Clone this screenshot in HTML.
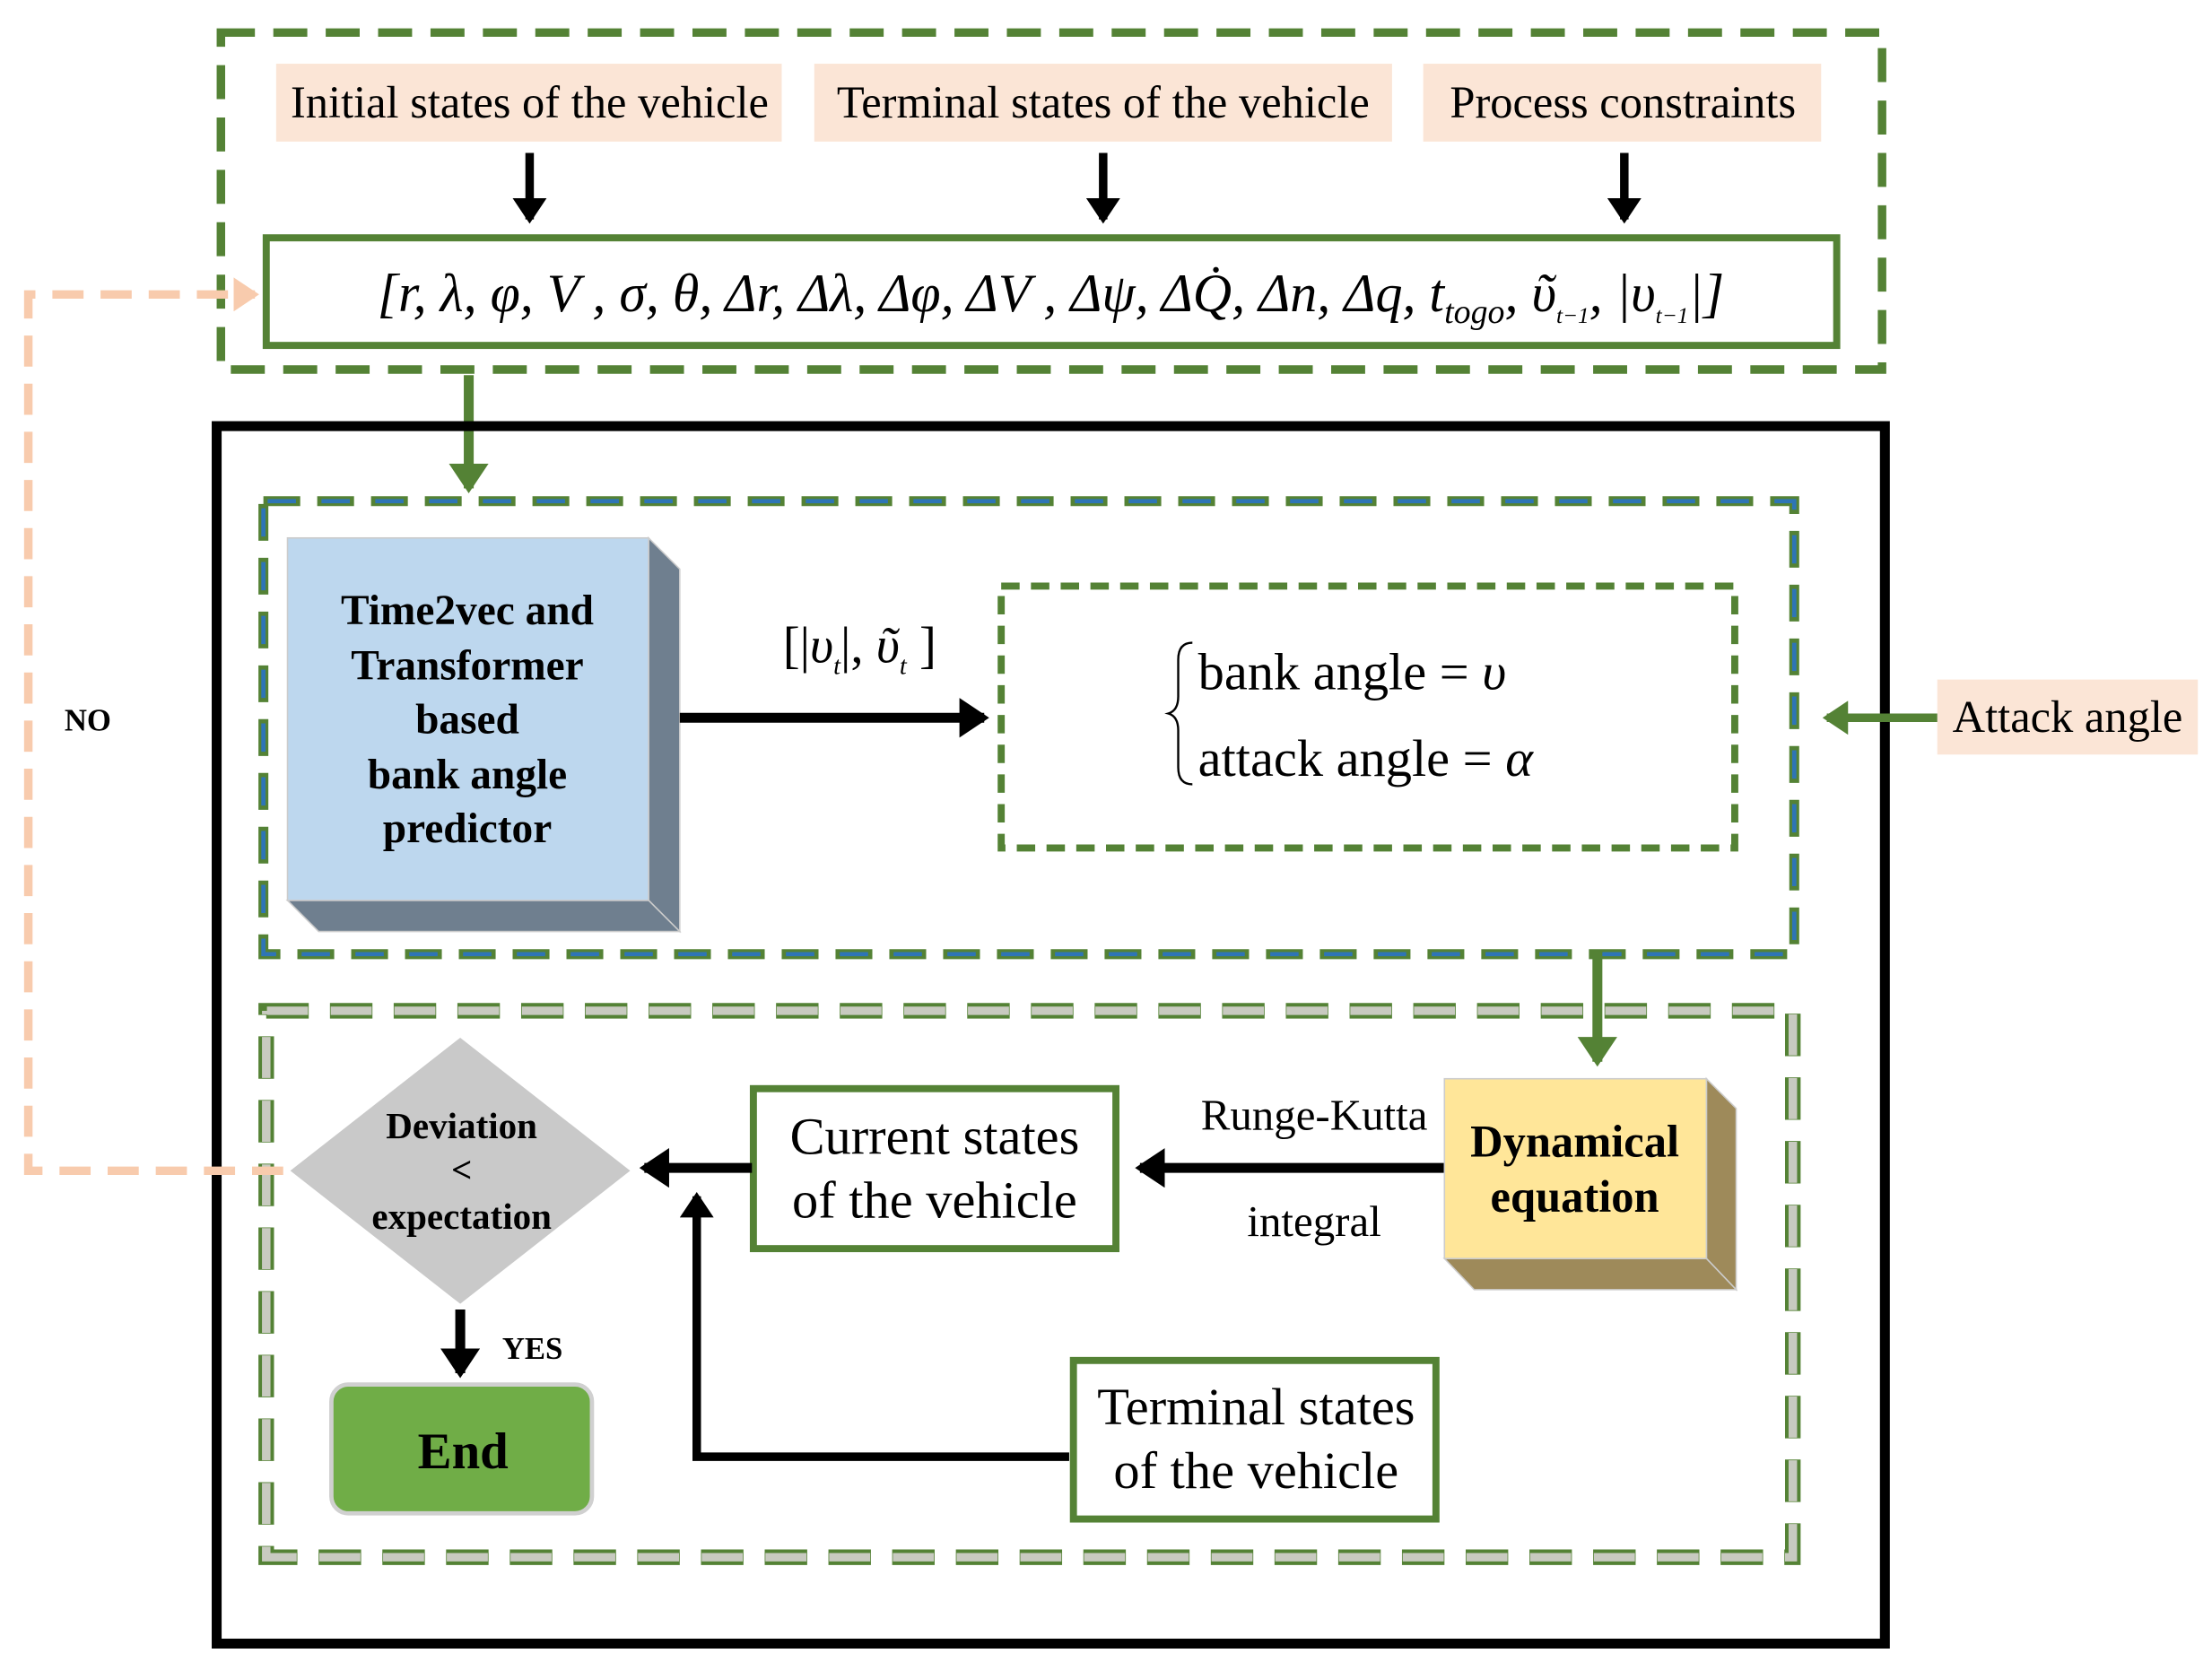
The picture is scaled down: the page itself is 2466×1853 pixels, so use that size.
<!DOCTYPE html>
<html><head><meta charset="utf-8"><style>html,body{margin:0;padding:0;background:#fff}svg{display:block}</style></head>
<body>
<svg width="2466" height="1853" viewBox="0 0 1562 1174" preserveAspectRatio="none" xmlns="http://www.w3.org/2000/svg" font-family="Liberation Serif, serif">
<defs>
<marker id="ab" markerWidth="4" markerHeight="4" refX="2.5" refY="2" orient="auto" markerUnits="strokeWidth"><path d="M0,0 L3,2 L0,4 z" fill="#000"/></marker>
<marker id="ag" markerWidth="4" markerHeight="4" refX="2.5" refY="2" orient="auto" markerUnits="strokeWidth"><path d="M0,0 L3,2 L0,4 z" fill="#548235"/></marker>
<marker id="ap" markerWidth="4" markerHeight="4" refX="2.5" refY="2" orient="auto" markerUnits="strokeWidth"><path d="M0,0 L3,2 L0,4 z" fill="#f8cbad"/></marker>
</defs>
<rect x="156" y="23" width="1173" height="238" fill="none" stroke="#548235" stroke-width="6" stroke-dasharray="24,13"/>
<rect x="195" y="45" width="357" height="55" fill="#fbe5d6"/>
<text x="374" y="83" font-size="32" text-anchor="middle">Initial states of the vehicle</text>
<rect x="575" y="45" width="408" height="55" fill="#fbe5d6"/>
<text x="779" y="83" font-size="32" text-anchor="middle">Terminal states of the vehicle</text>
<rect x="1005" y="45" width="281" height="55" fill="#fbe5d6"/>
<text x="1146" y="83" font-size="32" text-anchor="middle">Process constraints</text>
<g stroke="#000" stroke-width="6" marker-end="url(#ab)">
<line x1="374" y1="108" x2="374" y2="155"/><line x1="779" y1="108" x2="779" y2="155"/><line x1="1147" y1="108" x2="1147" y2="155"/></g>
<rect x="188" y="168" width="1109" height="76" fill="#fff" stroke="#548235" stroke-width="5"/>
<text x="742" y="220" font-size="38" text-anchor="middle" font-style="italic">[r, λ, φ, V , σ, θ, Δr, Δλ, Δφ, ΔV , Δψ, ΔQ̇, Δn, Δq, t<tspan font-size="24" dy="8">togo</tspan><tspan dy="-8">, ῦ</tspan><tspan font-size="16" dy="8">t−1</tspan><tspan dy="-8">, |υ</tspan><tspan font-size="16" dy="8">t−1</tspan><tspan dy="-8">|]</tspan></text>
<line x1="331" y1="265" x2="331" y2="345" stroke="#548235" stroke-width="7" marker-end="url(#ag)"/>
<rect x="153" y="301" width="1178" height="860" fill="none" stroke="#000" stroke-width="7"/>
<rect x="186" y="354" width="1081" height="320" fill="none" stroke="#548235" stroke-width="7" stroke-dasharray="26,12"/>
<rect x="186" y="354" width="1081" height="320" fill="none" stroke="#2e75b6" stroke-width="3" stroke-dasharray="20,18" stroke-dashoffset="-3"/>
<polygon points="458,380 480,402 480,658 458,636" fill="#6f7f8f" stroke="#ccc"/>
<polygon points="203,636 458,636 480,658 225,658" fill="#6f7f8f" stroke="#ccc"/>
<rect x="203" y="380" width="255" height="256" fill="#bdd7ee" stroke="#ccc"/>
<g font-size="30" font-weight="bold" text-anchor="middle">
<text x="330" y="441">Time2vec and</text><text x="330" y="480">Transformer</text><text x="330" y="518">based</text><text x="330" y="557">bank angle</text><text x="330" y="595">predictor</text></g>
<line x1="480" y1="507" x2="695" y2="507" stroke="#000" stroke-width="7" marker-end="url(#ab)"/>
<text x="607" y="468" font-size="36" text-anchor="middle">[|<tspan font-style="italic">υ</tspan><tspan font-size="18" font-style="italic" dy="8">t</tspan><tspan dy="-8">|, </tspan><tspan font-style="italic">ῦ</tspan><tspan font-size="18" font-style="italic" dy="8">t</tspan><tspan dy="-8"> ]</tspan></text>
<rect x="707" y="414" width="518" height="185" fill="none" stroke="#548235" stroke-width="5" stroke-dasharray="13,8"/>
<path d="M842,454 q-10,0 -10,12 v26 q0,10 -7,12 q7,2 7,12 v26 q0,12 10,12" fill="none" stroke="#000" stroke-width="1.5"/>
<text x="846" y="487" font-size="37">bank angle = <tspan font-style="italic">υ</tspan></text>
<text x="846" y="548" font-size="37">attack angle = <tspan font-style="italic">α</tspan></text>
<rect x="1368" y="480" width="184" height="53" fill="#fbe5d6"/>
<text x="1460" y="517" font-size="32" text-anchor="middle">Attack angle</text>
<line x1="1368" y1="507" x2="1290" y2="507" stroke="#548235" stroke-width="6" marker-end="url(#ag)"/>
<line x1="1128" y1="672" x2="1128" y2="750" stroke="#548235" stroke-width="7" marker-end="url(#ag)"/>
<rect x="188" y="714" width="1078" height="386" fill="none" stroke="#548235" stroke-width="11" stroke-dasharray="30,15"/>
<rect x="188" y="714" width="1078" height="386" fill="none" stroke="#c8cac0" stroke-width="6" stroke-dasharray="29,16" stroke-dashoffset="-0.5"/>
<polygon points="325,733 445,827 325,921 205,827" fill="#c9c9c9"/>
<g font-size="26" font-weight="bold" text-anchor="middle">
<text x="326" y="804">Deviation</text><text x="326" y="835">&lt;</text><text x="326" y="868">expectation</text></g>
<rect x="532" y="769" width="256" height="113" fill="#fff" stroke="#548235" stroke-width="5"/>
<text x="660" y="815" font-size="37" text-anchor="middle">Current states</text>
<text x="660" y="860" font-size="37" text-anchor="middle">of the vehicle</text>
<line x1="531" y1="825" x2="455" y2="825" stroke="#000" stroke-width="7" marker-end="url(#ab)"/>
<line x1="1020" y1="825" x2="805" y2="825" stroke="#000" stroke-width="7" marker-end="url(#ab)"/>
<text x="928" y="798" font-size="31" text-anchor="middle">Runge-Kutta</text>
<text x="928" y="873" font-size="31" text-anchor="middle">integral</text>
<polygon points="1205,762 1226,783 1226,911 1205,889" fill="#9e8a5a" stroke="#ccc"/>
<polygon points="1020,889 1205,889 1226,911 1041,911" fill="#9e8a5a" stroke="#ccc"/>
<rect x="1020" y="762" width="185" height="127" fill="#ffe699" stroke="#ccc"/>
<text x="1112" y="817" font-size="32" font-weight="bold" text-anchor="middle">Dynamical</text>
<text x="1112" y="856" font-size="32" font-weight="bold" text-anchor="middle">equation</text>
<rect x="758" y="961" width="256" height="112" fill="#fff" stroke="#548235" stroke-width="5"/>
<text x="887" y="1006" font-size="37" text-anchor="middle">Terminal states</text>
<text x="887" y="1051" font-size="37" text-anchor="middle">of the vehicle</text>
<polyline points="755,1029 492,1029 492,845" fill="none" stroke="#000" stroke-width="6" marker-end="url(#ab)"/>
<line x1="325" y1="925" x2="325" y2="970" stroke="#000" stroke-width="7" marker-end="url(#ab)"/>
<text x="376" y="960" font-size="22" font-weight="bold" text-anchor="middle">YES</text>
<rect x="234" y="978" width="184" height="91" rx="12" fill="#70ad47" stroke="#d0d0d0" stroke-width="3"/>
<text x="327" y="1037" font-size="36" font-weight="bold" text-anchor="middle">End</text>
<polyline points="200,827 20,827 20,208 180,208" fill="none" stroke="#f8cbad" stroke-width="6" stroke-dasharray="22,12" marker-end="url(#ap)"/>
<text x="62" y="516" font-size="22" font-weight="bold" text-anchor="middle">NO</text>
</svg>
</body></html>
